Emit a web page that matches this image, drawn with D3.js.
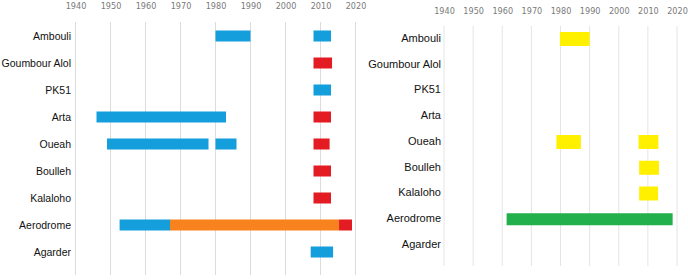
<!DOCTYPE html>
<html>
<head>
<meta charset="utf-8">
<script src="https://cdn.jsdelivr.net/npm/d3@7"></script>
<style>
  body { margin: 0; background: #fff; }
  svg { display: block; }
</style>
</head>
<body>
<svg width="688" height="280"></svg>
<script>
// sites, top to bottom
const sites = ["Ambouli", "Goumbour Alol", "PK51", "Arta", "Oueah", "Boulleh", "Kalaloho", "Aerodrome", "Agarder"];
const years = [1940, 1950, 1960, 1970, 1980, 1990, 2000, 2010, 2020];

// [site, start, end, kind]
const leftBars = [
  ["Ambouli", 1980, 1990, "blue"],
  ["Ambouli", 2008, 2013, "blue"],
  ["Goumbour Alol", 2008, 2013.3, "red"],
  ["PK51", 2008, 2013, "blue"],
  ["Arta", 1946, 1983, "blue"],
  ["Arta", 2008, 2013, "red"],
  ["Oueah", 1949, 1978, "blue"],
  ["Oueah", 1980, 1986, "blue"],
  ["Oueah", 2008, 2012.6, "red"],
  ["Boulleh", 2008, 2013, "red"],
  ["Kalaloho", 2008, 2013, "red"],
  ["Aerodrome", 1952.6, 1967, "blue"],
  ["Aerodrome", 1967, 2015.3, "orange"],
  ["Aerodrome", 2015.3, 2019, "red"],
  ["Agarder", 2007.2, 2013.6, "blue"]
];

const rightBars = [
  ["Ambouli", 1979.8, 1990, "yellow"],
  ["Oueah", 1978.6, 1987, "yellow"],
  ["Oueah", 2006.8, 2013.6, "yellow"],
  ["Boulleh", 2007, 2013.8, "yellow"],
  ["Kalaloho", 2007, 2013.5, "yellow"],
  ["Aerodrome", 1961.5, 2018.5, "green"]
];

const kinds = ["blue", "red", "orange", "yellow", "green"];
const color = d3.scaleOrdinal().domain(kinds)
  .range(["#149fdc", "#e31b23", "#f7821e", "#fff000", "#21b04b"]);

const svg = d3.select("svg");

function panel(cfg) {
  const x = d3.scaleLinear().domain([1940, 2020]).range(cfg.xr);
  const y = d3.scalePoint().domain(sites).range(cfg.yr);
  const g = svg.append("g");

  // grid
  g.append("g").selectAll("line")
    .data(years)
    .enter()
    .append("line")
    .attr("x1", d => x(d)).attr("x2", d => x(d))
    .attr("y1", cfg.gridTop).attr("y2", cfg.gridBottom)
    .attr("stroke", cfg.gridColor)
    .attr("stroke-width", 1);

  // year labels on top
  const ax = g.append("g")
    .attr("transform", "translate(0," + cfg.axisY + ")")
    .call(d3.axisTop(x).tickValues(years).tickSize(0).tickFormat(d3.format("d")));
  ax.select(".domain").remove();
  ax.selectAll("text")
    .attr("font-family", "'Liberation Sans Narrow', 'DejaVu Sans Condensed', sans-serif")
    .attr("font-size", "9px")
    .attr("fill", "#7a7a7a");

  // site names
  g.append("g").selectAll("text")
    .data(sites)
    .enter()
    .append("text")
    .attr("x", cfg.labelX)
    .attr("y", d => y(d) + cfg.labelDy)
    .attr("dy", "0.35em")
    .attr("text-anchor", "end")
    .attr("font-family", "'Liberation Sans', Arial, sans-serif")
    .attr("font-size", cfg.labelSize)
    .attr("fill", "#111")
    .text(d => d);

  // bars
  g.append("g").selectAll("rect")
    .data(cfg.bars)
    .enter()
    .append("rect")
    .attr("x", d => x(d[1]))
    .attr("width", d => x(d[2]) - x(d[1]))
    .attr("y", d => y(d[0]) - cfg.barH(d) / 2)
    .attr("height", d => cfg.barH(d))
    .attr("fill", d => color(d[3]));
}

panel({
  xr: [75.5, 355.5], yr: [36, 252],
  gridTop: 22, gridBottom: 275, gridColor: "#dcdcdc",
  axisY: 12, labelX: 71, labelDy: 0, labelSize: "10.5px",
  bars: leftBars, barH: () => 11
});

panel({
  xr: [444, 677], yr: [39, 245],
  gridTop: 26, gridBottom: 266, gridColor: "#e4e4e4",
  axisY: 17, labelX: 441, labelDy: -1, labelSize: "11px",
  bars: rightBars, barH: d => d[3] === "green" ? 12 : 14
});
</script>
</body>
</html>
